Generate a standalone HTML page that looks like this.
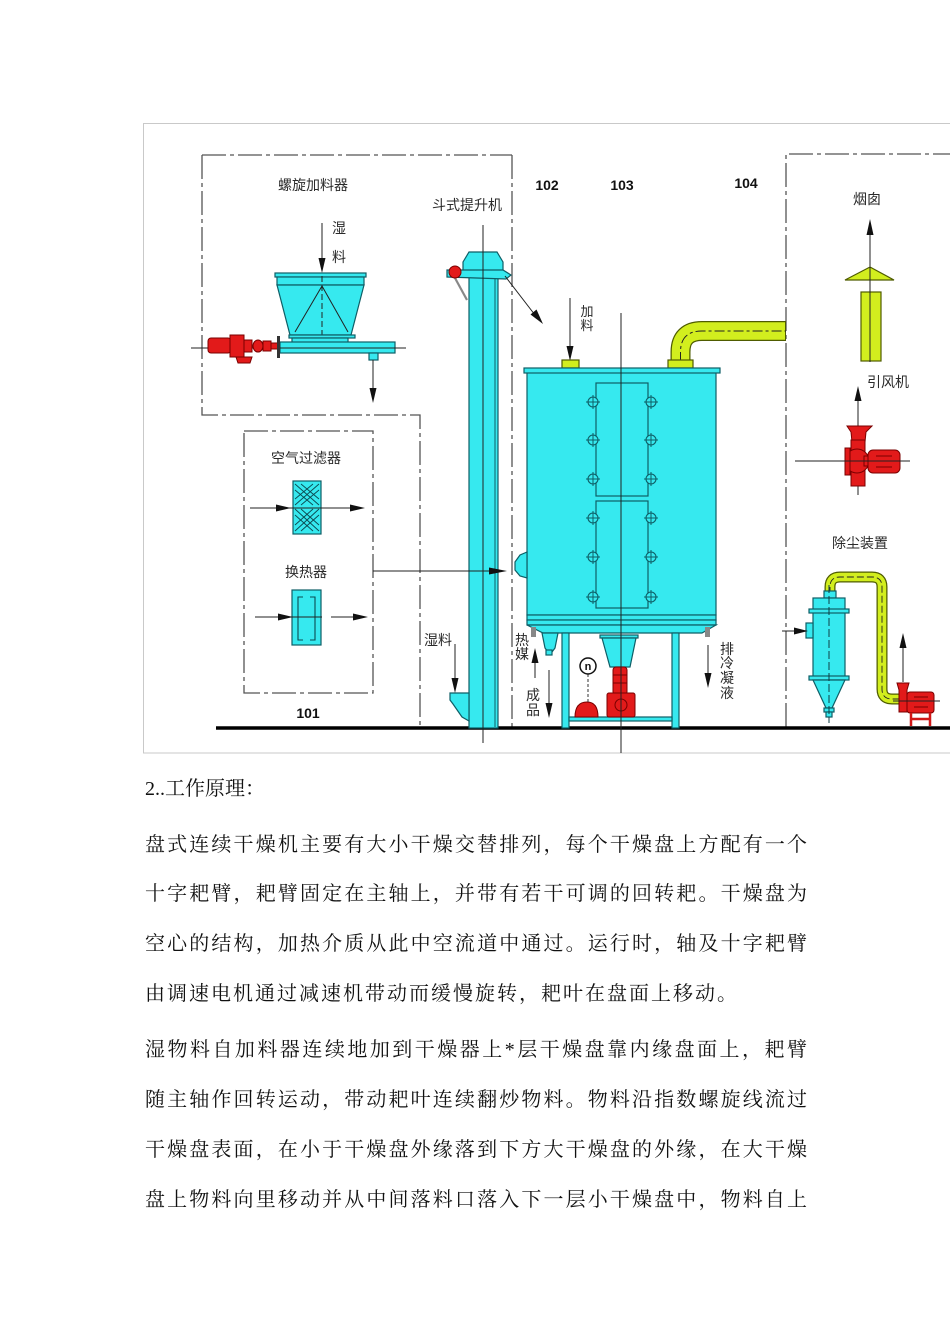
<!DOCTYPE html>
<html><head><meta charset="utf-8">
<style>
html,body{margin:0;padding:0;background:#fff;}
body{width:950px;height:1344px;position:relative;overflow:hidden;}
svg{position:absolute;left:0;top:0;}
.t{position:absolute;left:145px;font-family:"Liberation Serif","Noto Serif CJK SC",serif;font-size:20px;line-height:24px;color:#111;white-space:nowrap;letter-spacing:2px;}
.j{width:662px;text-align:justify;text-align-last:justify;letter-spacing:0;}
</style></head><body>
<svg width="950" height="760" viewBox="0 0 950 760" xmlns="http://www.w3.org/2000/svg">
<defs>
<style>
.lb{font-family:"Liberation Sans","Noto Sans CJK SC",sans-serif;font-size:14px;fill:#2a2a2a;}
.nb{font-family:"Liberation Sans",sans-serif;font-size:14px;font-weight:bold;fill:#111;}
.dd{fill:none;stroke:#555;stroke-width:1.3;stroke-dasharray:24 4 4 4;}
.cy{fill:#36e9ef;stroke:#0e5e66;stroke-width:1.2;}
.yl{fill:#d2ee1e;stroke:#4f5c00;stroke-width:1.2;}
.rd{fill:#e21a1a;stroke:#7a0000;stroke-width:1;}
.cl{stroke:#222;stroke-width:1;fill:none;}
.ah{fill:#111;}
</style>
</defs>
<!-- frame -->
<rect x="143.5" y="123.5" width="830" height="629.5" fill="none" stroke="#c9c9c9" stroke-width="1"/>

<!-- dash-dot boxes -->
<path class="dd" d="M202,155 H512"/>
<path class="dd" d="M202,155 V415 H420 V727"/>
<path class="dd" d="M512,155 V727"/>
<rect class="dd" x="244" y="431" width="129" height="262"/>
<path class="dd" d="M786,727 V154 H950"/>

<!-- ground -->
<line x1="216" y1="728" x2="950" y2="728" stroke="#000" stroke-width="3.5"/>

<!-- ===== screw feeder ===== -->
<text class="lb" x="313" y="190" text-anchor="middle">螺旋加料器</text>
<text class="lb" x="339" y="233" text-anchor="middle">湿</text>
<text class="lb" x="339" y="262" text-anchor="middle">料</text>
<line class="cl" x1="322" y1="223" x2="322" y2="262"/>
<polygon class="ah" points="322,273 318.5,258 325.5,258"/>
<rect class="cy" x="275" y="273" width="91" height="4"/>
<rect class="cy" x="277" y="277" width="87" height="8"/>
<polygon class="cy" points="277,285 364,285 351,335 290,335"/>
<path class="cl" d="M322,286 L295,332 M322,286 L348,332"/>
<line x1="322" y1="276" x2="322" y2="342" stroke="#222" stroke-width="1" stroke-dasharray="6 3"/>
<rect class="cy" x="289" y="335" width="66" height="3"/>
<rect class="cy" x="292" y="338" width="56" height="5"/>
<rect class="cy" x="280" y="342" width="115" height="11"/>
<rect class="cy" x="369" y="353" width="9" height="7"/>
<line class="cl" x1="191" y1="348" x2="406" y2="348"/>
<line class="cl" x1="373" y1="360" x2="373" y2="392"/>
<polygon class="ah" points="373,403 369.5,388 376.5,388"/>
<!-- red motor -->
<rect class="rd" x="208" y="338" width="23" height="15" rx="3"/>
<rect class="rd" x="230" y="335" width="14" height="22"/>
<polygon class="rd" points="236,357 252,357 250,363 238,363"/>
<rect class="rd" x="244" y="340" width="8" height="12"/>
<ellipse class="rd" cx="258" cy="346" rx="5" ry="6"/>
<rect class="rd" x="263" y="341" width="8" height="10"/>
<rect class="rd" x="271" y="343" width="7" height="6"/>
<rect x="277" y="336" width="3" height="22" fill="#333"/>

<!-- ===== bucket elevator ===== -->
<text class="lb" x="467" y="210" text-anchor="middle">斗式提升机</text>
<rect class="cy" x="469" y="276" width="29" height="452"/>
<line x1="495" y1="278" x2="495" y2="727" stroke="#0e5e66" stroke-width="1"/>
<path class="cy" d="M463,271 V262 L469,252 H497 L503,262 V271 Z"/>
<polygon class="cy" points="447,270 503,270 511,275 506,279 447,277"/>
<line x1="455" y1="278" x2="467" y2="300" stroke="#888" stroke-width="2.2"/>
<circle class="rd" cx="455" cy="272" r="6"/>
<line class="cl" x1="483" y1="225" x2="483" y2="743"/>
<line class="cl" x1="505" y1="276" x2="535" y2="315"/>
<polygon class="ah" points="543,324 530.5,314.5 536.5,309.5"/>
<polygon class="cy" points="450,693 469,693 469,721 462,717 453,704 450,700"/>
<text class="lb" x="438" y="645" text-anchor="middle">湿料</text>
<line class="cl" x1="455" y1="644" x2="455" y2="681"/>
<polygon class="ah" points="455,693 451.5,678 458.5,678"/>

<!-- ===== air filter / heat exchanger ===== -->
<text class="lb" x="306" y="463" text-anchor="middle">空气过滤器</text>
<rect class="cy" x="293" y="481" width="28" height="53"/>
<path d="M295,484 L319,505 M319,484 L295,505 M295,490 L313,505 M301,484 L319,499 M313,484 L295,499 M319,490 L301,505
M295,509 L319,531 M319,509 L295,531 M295,515 L313,531 M301,509 L319,525 M313,509 L295,525 M319,515 L301,531" stroke="#0b4a50" stroke-width="0.9" fill="none"/>
<line class="cl" x1="250" y1="508" x2="354" y2="508"/>
<polygon class="ah" points="291,508 276,504.5 276,511.5"/>
<polygon class="ah" points="365,508 350,504.5 350,511.5"/>
<text class="lb" x="306" y="577" text-anchor="middle">换热器</text>
<rect class="cy" x="292" y="590" width="29" height="55"/>
<path d="M303,597 H298 V640 H303 M310,597 H315 V640 H310" stroke="#0b4a50" stroke-width="1.1" fill="none"/>
<line class="cl" x1="255" y1="617" x2="322" y2="617"/>
<polygon class="ah" points="293,617 278,613.5 278,620.5"/>
<line class="cl" x1="331" y1="617" x2="358" y2="617"/>
<polygon class="ah" points="368,617 353,613.5 353,620.5"/>
<text class="nb" x="308" y="718" text-anchor="middle">101</text>
<line class="cl" x1="373" y1="571" x2="496" y2="571"/>
<polygon class="ah" points="507,571 489,567.5 489,574.5"/>

<!-- ===== labels 102 103 104 ===== -->
<text class="nb" x="547" y="190" text-anchor="middle">102</text>
<text class="nb" x="622" y="190" text-anchor="middle">103</text>
<text class="nb" x="746" y="188" text-anchor="middle">104</text>

<!-- ===== dryer ===== -->
<text class="lb" x="587" y="316" text-anchor="middle" style="font-size:13px">加</text>
<text class="lb" x="587" y="330" text-anchor="middle" style="font-size:13px">料</text>
<line class="cl" x1="570" y1="298" x2="570" y2="350"/>
<polygon class="ah" points="570,361 566.5,346 573.5,346"/>
<!-- outlet pipe -->
<path d="M680.5,362 V352 Q680.5,331 702,331 H786" fill="none" stroke="#4f5c00" stroke-width="20"/>
<path d="M680.5,363 V352 Q680.5,331 702,331 H785" fill="none" stroke="#d2ee1e" stroke-width="17.5"/>
<path d="M680.5,362 V352 Q680.5,331 702,331 H786" fill="none" stroke="#222" stroke-width="1" stroke-dasharray="10 3 3 3"/>
<rect class="yl" x="668" y="360" width="25" height="8"/>
<rect class="yl" x="562" y="360" width="17" height="8"/>
<rect class="cy" x="527" y="372" width="189" height="243"/>
<rect class="cy" x="524" y="368" width="196" height="5"/>
<polygon class="cy" points="527,552 520,555 515,562 515,570 520,576 527,578"/>
<rect class="cy" x="596" y="383" width="52" height="113"/>
<rect class="cy" x="596" y="501" width="52" height="107"/>
<g fill="#36e9ef" stroke="#0e5e66" stroke-width="1.1">
<circle cx="593" cy="402" r="5"/><circle cx="651" cy="402" r="5"/>
<circle cx="593" cy="440" r="5"/><circle cx="651" cy="440" r="5"/>
<circle cx="593" cy="479" r="5"/><circle cx="651" cy="479" r="5"/>
<circle cx="593" cy="518" r="5"/><circle cx="651" cy="518" r="5"/>
<circle cx="593" cy="557" r="5"/><circle cx="651" cy="557" r="5"/>
<circle cx="593" cy="597" r="5"/><circle cx="651" cy="597" r="5"/>
</g>
<path stroke="#0e5e66" stroke-width="1" d="M586,402 H600 M593,395 V409 M644,402 H658 M651,395 V409
M586,440 H600 M593,433 V447 M644,440 H658 M651,433 V447
M586,479 H600 M593,472 V486 M644,479 H658 M651,472 V486
M586,518 H600 M593,511 V525 M644,518 H658 M651,511 V525
M586,557 H600 M593,550 V564 M644,557 H658 M651,550 V564
M586,597 H600 M593,590 V604 M644,597 H658 M651,590 V604"/>
<rect class="cy" x="527" y="615" width="189" height="5"/>
<rect class="cy" x="527" y="620" width="189" height="5"/>
<polygon class="cy" points="527,625 716,625 702,633 543,633"/>
<rect class="cy" x="562" y="633" width="7" height="95"/>
<rect class="cy" x="672" y="633" width="7" height="95"/>
<rect class="cy" x="569" y="717" width="103" height="4"/>
<polygon class="cy" points="542,633 558,633 555,648 552,652 548,652 545,648"/>
<rect class="cy" x="546" y="650" width="6" height="5"/>
<rect x="531" y="627" width="5" height="10" fill="#888"/>
<rect x="705" y="627" width="5" height="10" fill="#888"/>
<rect class="cy" x="600" y="635" width="38" height="3"/>
<polygon class="cy" points="602,638 636,638 630,667 610,667"/>
<!-- drive -->
<rect class="rd" x="613" y="667" width="14" height="28" rx="3"/>
<path d="M613,675 H627 M613,683 H627" stroke="#7a0000" stroke-width="1"/>
<rect class="rd" x="607" y="693" width="28" height="24" rx="2"/>
<circle cx="621" cy="705" r="6" fill="none" stroke="#7a0000" stroke-width="1"/>
<path class="rd" d="M575,717 Q575,702 587,702 Q598,702 598,717 Z"/>
<line x1="588" y1="674" x2="588" y2="702" stroke="#333" stroke-width="1" stroke-dasharray="3 2"/>
<circle cx="588" cy="666" r="8" fill="#fff" stroke="#111" stroke-width="1.5"/>
<text x="588" y="670" text-anchor="middle" style="font-family:'Liberation Sans',sans-serif;font-size:11px;font-weight:bold" fill="#111">n</text>
<line class="cl" x1="621" y1="313" x2="621" y2="753"/>
<!-- side labels -->
<text class="lb" x="522" y="645" text-anchor="middle">热</text>
<text class="lb" x="522" y="659" text-anchor="middle">媒</text>
<line class="cl" x1="535" y1="678" x2="535" y2="660"/>
<polygon class="ah" points="535,648 531.5,663 538.5,663"/>
<text class="lb" x="533" y="700" text-anchor="middle">成</text>
<text class="lb" x="533" y="715" text-anchor="middle">品</text>
<line class="cl" x1="549" y1="670" x2="549" y2="706"/>
<polygon class="ah" points="549,718 545.5,703 552.5,703"/>
<line class="cl" x1="708" y1="645" x2="708" y2="676"/>
<polygon class="ah" points="708,688 704.5,673 711.5,673"/>
<text class="lb" x="727" y="654" text-anchor="middle">排</text>
<text class="lb" x="727" y="668" text-anchor="middle">冷</text>
<text class="lb" x="727" y="683" text-anchor="middle">凝</text>
<text class="lb" x="727" y="698" text-anchor="middle">液</text>

<!-- ===== right section ===== -->
<text class="lb" x="867" y="204" text-anchor="middle">烟囱</text>
<line class="cl" x1="870" y1="232" x2="870" y2="362"/>
<polygon class="ah" points="870,219 866.5,235 873.5,235"/>
<polygon class="yl" points="870,267 894,280 845,280"/>
<rect class="yl" x="861" y="292" width="20" height="69"/>
<line class="cl" x1="870" y1="267" x2="870" y2="362"/>
<text class="lb" x="888" y="387" text-anchor="middle">引风机</text>
<line class="cl" x1="858" y1="398" x2="858" y2="495"/>
<polygon class="ah" points="858,386 854.5,401 861.5,401"/>
<!-- fan -->
<polygon class="rd" points="847,426 872,426 866,432 865,442 852,442 851,432"/>
<rect class="rd" x="851" y="440" width="14" height="46"/>
<circle class="rd" cx="857" cy="461" r="12"/>
<rect class="rd" x="845" y="448" width="5" height="27"/>
<rect class="rd" x="864" y="456" width="5" height="10"/>
<rect class="rd" x="868" y="450" width="32" height="23" rx="5"/>
<path d="M876,456 H892 M876,467 H892" stroke="#7a0000" stroke-width="1"/>
<line class="cl" x1="795" y1="461" x2="910" y2="461"/>
<text class="lb" x="860" y="548" text-anchor="middle">除尘装置</text>
<!-- cyclone pipe -->
<path d="M830,594 V587 Q830,577 840,577 H872 Q882,577 882,587 V689 Q882,699 892,699 H902" fill="none" stroke="#4f5c00" stroke-width="11"/>
<path d="M830,595 V587 Q830,577 840,577 H872 Q882,577 882,587 V689 Q882,699 892,699 H901" fill="none" stroke="#d2ee1e" stroke-width="8.5"/>
<path d="M830,594 V587 Q830,577 840,577 H872 Q882,577 882,587 V689 Q882,699 892,699 H902" fill="none" stroke="#222" stroke-width="0.9" stroke-dasharray="7 3"/>
<!-- cyclone -->
<rect class="cy" x="824" y="591" width="12" height="7"/>
<rect class="cy" x="813" y="598" width="32" height="80"/>
<rect class="cy" x="809" y="609" width="40" height="4"/>
<rect class="cy" x="809" y="676" width="40" height="4"/>
<polygon class="cy" points="813,680 845,680 832,708 826,708"/>
<rect class="cy" x="824" y="708" width="10" height="4"/>
<rect class="cy" x="826" y="712" width="6" height="5"/>
<rect class="cy" x="806" y="623" width="7" height="15"/>
<line class="cl" x1="782" y1="631" x2="797" y2="631"/>
<polygon class="ah" points="808,631 794,627.5 794,634.5"/>
<line x1="829" y1="585" x2="829" y2="723" stroke="#0e3e44" stroke-width="1" stroke-dasharray="8 3"/>
<!-- small fan -->
<line class="cl" x1="903" y1="682" x2="903" y2="646"/>
<polygon class="ah" points="903,633 899.5,648 906.5,648"/>
<polygon class="rd" points="897,683 909,683 907,690 907,712 899,712 899,690"/>
<rect class="rd" x="907" y="692" width="27" height="21" rx="3"/>
<path d="M914,697 H928 M914,707 H928" stroke="#7a0000" stroke-width="1"/>
<path d="M911,713 V726 M930,713 V726 M911,719 H930" stroke="#d01818" stroke-width="2.5" fill="none"/>
<line class="cl" x1="893" y1="701" x2="940" y2="701"/>
</svg>

<div class="t" style="top:777px;letter-spacing:0">2..工作原理：</div>
<div class="t j" style="top:833px;">盘式连续干燥机主要有大小干燥交替排列，每个干燥盘上方配有一个</div>
<div class="t j" style="top:882px;">十字耙臂，耙臂固定在主轴上，并带有若干可调的回转耙。干燥盘为</div>
<div class="t j" style="top:932px;">空心的结构，加热介质从此中空流道中通过。运行时，轴及十字耙臂</div>
<div class="t" style="top:982px;">由调速电机通过减速机带动而缓慢旋转，耙叶在盘面上移动。</div>
<div class="t j" style="top:1038px;">湿物料自加料器连续地加到干燥器上*层干燥盘靠内缘盘面上，耙臂</div>
<div class="t j" style="top:1088px;">随主轴作回转运动，带动耙叶连续翻炒物料。物料沿指数螺旋线流过</div>
<div class="t j" style="top:1138px;">干燥盘表面，在小于干燥盘外缘落到下方大干燥盘的外缘，在大干燥</div>
<div class="t j" style="top:1188px;">盘上物料向里移动并从中间落料口落入下一层小干燥盘中，物料自上</div>
</body></html>
